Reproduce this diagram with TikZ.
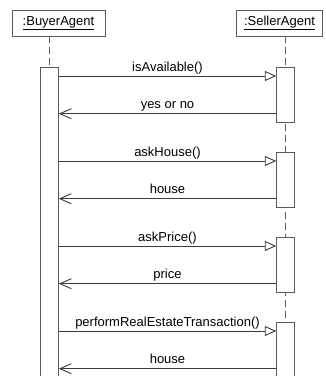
\documentclass[tikz,border=0pt]{standalone}
\usepackage{fontspec}
\setmainfont{Liberation Sans}
\usetikzlibrary{arrows.meta,calc}
\definecolor{lc}{RGB}{60,60,60}
\definecolor{bc}{RGB}{90,90,90}
\begin{document}
\begin{tikzpicture}[x=1pt,y=-1pt,
  font=\fontsize{13}{15}\selectfont,
  head/.style={draw=bc,line width=0.9pt,fill=white,minimum height=26pt,inner sep=0pt},
  actbar/.style={draw=bc,line width=0.9pt,fill=white,minimum width=17.6pt,inner sep=0pt},
  life/.style={draw=bc,line width=0.9pt,dash pattern=on 7pt off 4pt},
  call/.style={draw=lc,line width=0.9pt,-{Triangle[open,length=11.5pt,width=10pt]}},
  ret/.style={draw=lc,line width=0.9pt,-{Straight Barb[length=11.5pt,width=10pt]}},
  lbl/.style={anchor=south,inner sep=4.5pt,text depth=0pt}]
\useasboundingbox (0,0) rectangle (326,376);
% heads
\node[head,minimum width=93pt] (buyer) at (58.5,23) {\underline{:BuyerAgent}};
\node[head,minimum width=86pt] (seller) at (279.5,23) {\underline{:SellerAgent}};
% lifelines
\coordinate (bl) at (49.5,380);
\coordinate (sl) at (285.5,380);
\draw[life] (buyer.south -| bl) -- (bl);
\draw[life] (seller.south -| sl) -- (sl);
% activation bars
\node[actbar,minimum height=320pt,anchor=north] (b0) at (49.5,66.7) {};
\node[actbar,minimum height=55pt,anchor=north] (s1) at (285.5,66.7) {};
\node[actbar,minimum height=55pt,anchor=north] (s2) at (285.5,151.7) {};
\node[actbar,minimum height=55pt,anchor=north] (s3) at (285.5,236.7) {};
\node[actbar,minimum height=60pt,anchor=north] (s4) at (285.5,321.7) {};
% message points
\foreach \s in {1,2,3,4}{
  \path (s\s.north west) ++(0,9.3) coordinate (c\s);
  \path (s\s.north west) ++(0,47) coordinate (r\s);
}
\draw[call] (c1 -| b0.east) -- node[lbl]{isAvailable()} (c1);
\draw[ret] (r1) -- node[lbl]{yes or no} (r1 -| b0.east);
\draw[call] (c2 -| b0.east) -- node[lbl]{askHouse()} (c2);
\draw[ret] (r2) -- node[lbl]{house} (r2 -| b0.east);
\draw[call] (c3 -| b0.east) -- node[lbl]{askPrice()} (c3);
\draw[ret] (r3) -- node[lbl]{price} (r3 -| b0.east);
\draw[call] (c4 -| b0.east) -- node[lbl]{performRealEstateTransaction()} (c4);
\draw[ret] (r4) -- node[lbl]{house} (r4 -| b0.east);
\end{tikzpicture}
\end{document}
